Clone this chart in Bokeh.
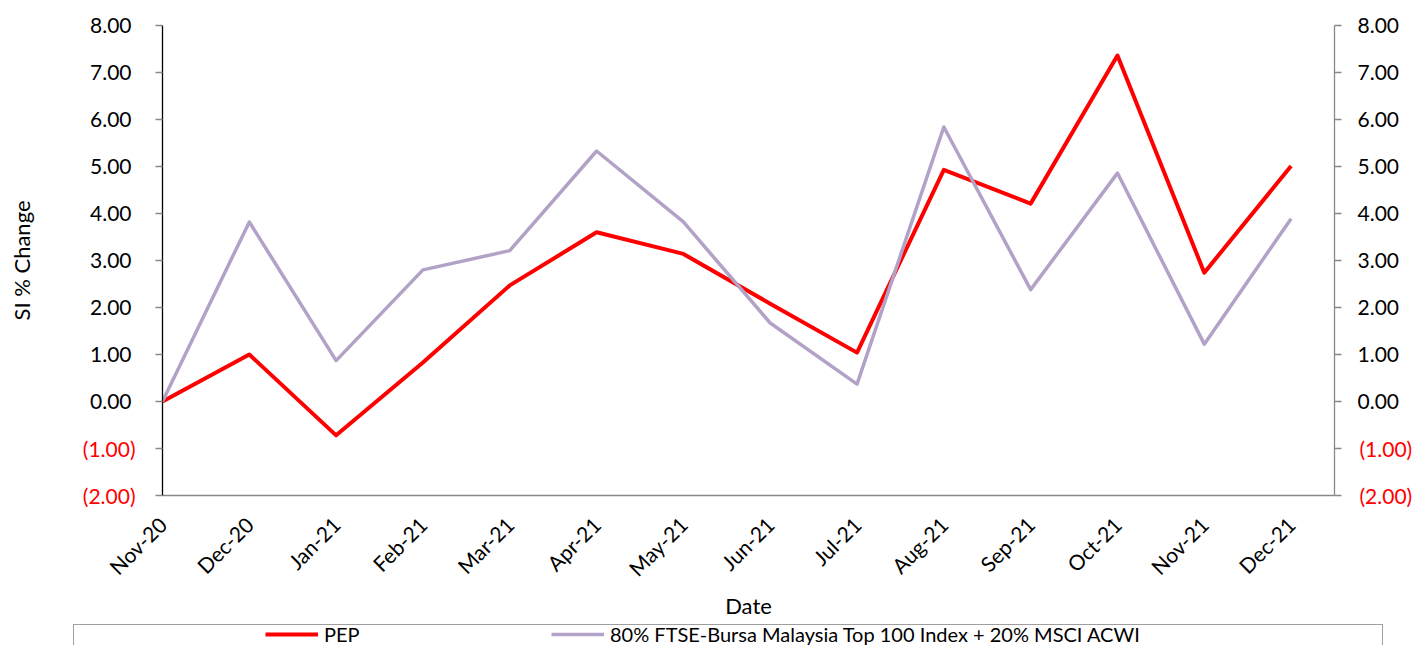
from math import pi
from bokeh.plotting import figure
from bokeh.models import Range1d, LinearAxis, FixedTicker, Legend, LegendItem
from bokeh.embed import file_html
from bokeh.resources import INLINE

months = ["Nov-20", "Dec-20", "Jan-21", "Feb-21", "Mar-21", "Apr-21", "May-21",
          "Jun-21", "Jul-21", "Aug-21", "Sep-21", "Oct-21", "Nov-21", "Dec-21"]
pep = [0.00, 1.00, -0.72, 0.83, 2.47, 3.60, 3.14, 2.08, 1.04, 4.93, 4.21, 7.36, 2.74, 5.01]
bench = [0.00, 3.82, 0.87, 2.80, 3.21, 5.33, 3.82, 1.67, 0.37, 5.84, 2.38, 4.86, 1.22, 3.89]
series_names = ["PEP", "80% FTSE-Bursa Malaysia Top 100 Index + 20% MSCI ACWI"]
y_ticks = [-2, -1, 0, 1, 2, 3, 4, 5, 6, 7, 8]
y_tick_labels = ["(2.00)", "(1.00)", "0.00", "1.00", "2.00", "3.00", "4.00",
                 "5.00", "6.00", "7.00", "8.00"]

FONT = "Lato"
TICK_FS = "21px"
PEP_COLOR = "#FF0000"
BENCH_COLOR = "#B3A2C7"
x_idx = list(range(len(months)))

p = figure(width=1415, height=622, output_backend="svg", toolbar_location=None,
           x_range=Range1d(0, 13.5), y_range=Range1d(-2, 8),
           min_border_left=162, min_border_right=78, min_border_top=25,
           min_border_bottom=127, x_axis_location=None, y_axis_location=None)
p.grid.visible = False
p.outline_line_color = None

r_pep = p.line(x_idx, pep, line_color=PEP_COLOR, line_width=4, line_join="round")
r_bench = p.line(x_idx, bench, line_color=BENCH_COLOR, line_width=3.5, line_join="round")

neg_ticks = [t for t in y_ticks if t < 0]
black_labels = {t: (lab if t >= 0 else "") for t, lab in zip(y_ticks, y_tick_labels)}
red_labels = {t: lab for t, lab in zip(y_ticks, y_tick_labels) if t < 0}


def main_y_axis(line_color, standoff, **kw):
    ax = LinearAxis(**kw)
    ax.ticker = FixedTicker(ticks=y_ticks)
    ax.major_label_overrides = black_labels
    ax.axis_line_color = line_color
    ax.axis_line_width = 1.3
    ax.major_tick_line_color = "#888888"
    ax.major_tick_line_width = 1.3
    ax.major_tick_out = 7
    ax.major_tick_in = 0
    ax.minor_tick_line_color = None
    ax.major_label_standoff = standoff
    ax.major_label_text_font = FONT
    ax.major_label_text_font_size = TICK_FS
    ax.major_label_text_color = "#000000"
    return ax


def red_y_axis(standoff, **kw):
    ax = LinearAxis(**kw)
    ax.ticker = FixedTicker(ticks=neg_ticks)
    ax.major_label_overrides = red_labels
    ax.axis_line_color = None
    ax.major_tick_line_color = None
    ax.major_tick_out = 0
    ax.major_tick_in = 0
    ax.minor_tick_line_color = None
    ax.major_label_standoff = standoff
    ax.major_label_text_font = FONT
    ax.major_label_text_font_size = TICK_FS
    ax.major_label_text_color = "#FF0000"
    return ax


p.add_layout(main_y_axis("#000000", 24), "left")
p.add_layout(red_y_axis(-48, axis_label="SI % Change", axis_label_text_font=FONT,
                        axis_label_text_font_size="22px",
                        axis_label_text_font_style="normal",
                        axis_label_text_color="#000000",
                        axis_label_standoff=45), "left")
p.add_layout(main_y_axis("#888888", 16), "right")
p.add_layout(red_y_axis(-42), "right")

bottom = LinearAxis(axis_label="Date", axis_label_text_font=FONT,
                    axis_label_text_font_size="22px", axis_label_text_font_style="normal",
                    axis_label_text_color="#000000", axis_label_standoff=0)
bottom.ticker = FixedTicker(ticks=x_idx)
bottom.major_label_overrides = {i: m for i, m in zip(x_idx, months)}
bottom.major_label_orientation = pi / 4
bottom.axis_line_color = "#888888"
bottom.axis_line_width = 1.3
bottom.major_tick_out = 0
bottom.major_tick_in = 0
bottom.minor_tick_line_color = None
bottom.major_label_standoff = 25
bottom.major_label_text_font = FONT
bottom.major_label_text_font_size = TICK_FS
bottom.major_label_text_color = "#000000"
p.add_layout(bottom, "below")

# ---- legend strip (separate root below the chart) ----
lf = figure(width=1415, height=23, output_backend="svg", toolbar_location=None,
            x_range=Range1d(0, 1), y_range=Range1d(0, 1),
            min_border=0, min_border_left=0, min_border_right=0,
            min_border_top=0, min_border_bottom=0,
            x_axis_location=None, y_axis_location=None)
lf.grid.visible = False
lf.outline_line_color = None

d_box = lf.line([], [], line_alpha=0)
d_pep = lf.line(x_idx, pep, line_color=PEP_COLOR, line_width=4, visible=False)
d_bench = lf.line(x_idx, bench, line_color=BENCH_COLOR, line_width=3.5, visible=False)

box = Legend(items=[LegendItem(label=" ", renderers=[d_box])],
             location=(73, -21), orientation="horizontal",
             padding=10, margin=0, glyph_width=20, glyph_height=20,
             label_standoff=0, label_width=1268, label_height=20,
             border_line_color="#404040", border_line_width=1.2,
             background_fill_color="white", background_fill_alpha=1)
lf.add_layout(box)

leg = Legend(items=[LegendItem(label=series_names[0], renderers=[d_pep]),
                    LegendItem(label=series_names[1], renderers=[d_bench])],
             location=(265, -1), orientation="horizontal",
             padding=0, margin=0, spacing=127, glyph_width=53, glyph_height=24,
             label_standoff=6, label_width=100, label_height=24,
             label_text_font=FONT, label_text_font_size="20px",
             label_text_color="#000000",
             border_line_color=None, background_fill_alpha=0)
lf.add_layout(leg)

open("out.html", "w").write(file_html([p, lf], INLINE))
